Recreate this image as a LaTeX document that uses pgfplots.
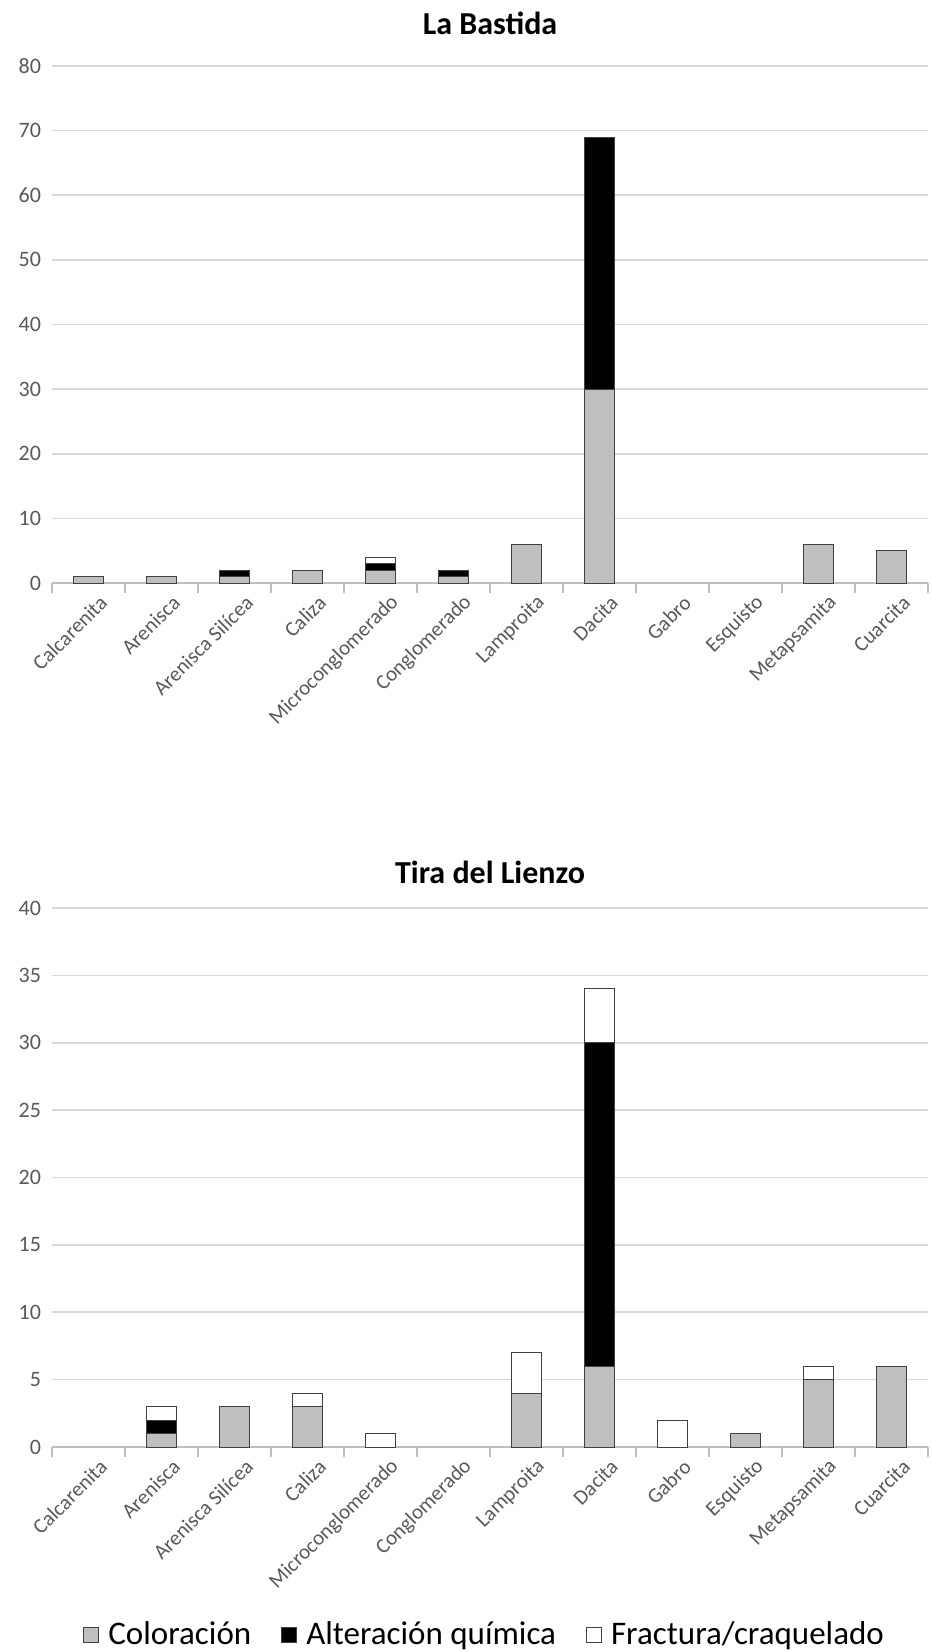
\documentclass[border=0pt]{standalone}
\usepackage{pgfplots}
\pgfplotsset{compat=1.18}
\usepackage{fontspec}
\setmainfont{Carlito}
\definecolor{colgray}{RGB}{191,191,191}
\definecolor{edgegray}{RGB}{64,64,64}
\definecolor{gridgray}{RGB}{217,217,217}
\definecolor{axgray}{RGB}{191,191,191}
\definecolor{labgray}{RGB}{89,89,89}

\pgfplotsset{
  mybars/.style={
    scale only axis, width=438pt,
    ybar stacked, bar width=15pt,
    xmin=-0.5, xmax=11.5, ymin=0,
    enlarge y limits=false,
    axis x line=bottom, axis y line=left,
    x axis line style={draw=axgray, line width=0.8pt, -},
    y axis line style={draw=none},
    tick align=outside,
    xtick={0,...,11},
    xticklabels={Calcarenita, Arenisca, Arenisca Silícea, Caliza, Microconglomerado, Conglomerado, Lamproita, Dacita, Gabro, Esquisto, Metapsamita, Cuarcita},
    minor xtick={-0.5,0.5,...,11.5},
    major x tick style={draw=none},
    minor x tick style={draw=axgray, line width=0.8pt},
    minor tick length=5pt,
    major tick length=0pt,
    ytick style={draw=none},
    ymajorgrids, grid style={draw=gridgray, line width=0.8pt},
    /pgf/number format/assume math mode=true,
    yticklabel style={font=\fontsize{11}{13}\selectfont, text=labgray, xshift=-2pt},
    xticklabel style={font=\fontsize{10.5}{12.5}\selectfont, text=labgray, rotate=45, anchor=east, yshift=-11pt, xshift=3pt},
    title style={font=\fontsize{16}{19}\selectfont\bfseries, at={(0.5,1)}, anchor=center},
    every axis plot/.append style={draw=edgegray, line width=0.5pt},
    legend image code/.code={\draw[#1] (0pt,-4pt) rectangle (7.5pt,3.5pt);},
  }
}

\begin{document}
\begin{tikzpicture}
\useasboundingbox (0,0) rectangle (466pt,-826pt);

\begin{axis}[mybars, at={(26pt,-291.5pt)}, anchor=south west,
  height=258.5pt, ymax=80, ytick={0,10,...,80},
  title={La Bastida}, title style={yshift=15.5pt}]
\addplot[fill=colgray] coordinates {(0,1) (1,1) (2,1) (3,2) (4,2) (5,1) (6,6) (7,30) (10,6) (11,5)};
\addplot[fill=black] coordinates {(0,0) (1,0) (2,1) (3,0) (4,1) (5,1) (6,0) (7,39) (10,0) (11,0)};
\addplot[fill=white] coordinates {(0,0) (1,0) (2,0) (3,0) (4,1) (5,0) (6,0) (7,0) (10,0) (11,0)};
\end{axis}

\begin{axis}[mybars, at={(26pt,-723.5pt)}, anchor=south west,
  height=269.5pt, ymax=40, ytick={0,5,...,40},
  title={Tira del Lienzo}, title style={yshift=12pt},
  legend columns=3,
  legend style={at={(0.495,-0.347)}, anchor=center, draw=none, fill=none,
    font=\fontsize{16.5}{20}\selectfont,
    /tikz/every even column/.append style={column sep=13pt},
    /tikz/every odd column/.append style={column sep=2.5pt}}]
\addplot[fill=colgray] coordinates {(1,1) (2,3) (3,3) (4,0) (6,4) (7,6) (8,0) (9,1) (10,5) (11,6)};
\addplot[fill=black] coordinates {(1,1) (2,0) (3,0) (4,0) (6,0) (7,24) (8,0) (9,0) (10,0) (11,0)};
\addplot[fill=white] coordinates {(1,1) (2,0) (3,1) (4,1) (6,3) (7,4) (8,2) (9,0) (10,1) (11,0)};
\legend{Coloración, Alteración química, Fractura/craquelado}
\end{axis}
\end{tikzpicture}
\end{document}
